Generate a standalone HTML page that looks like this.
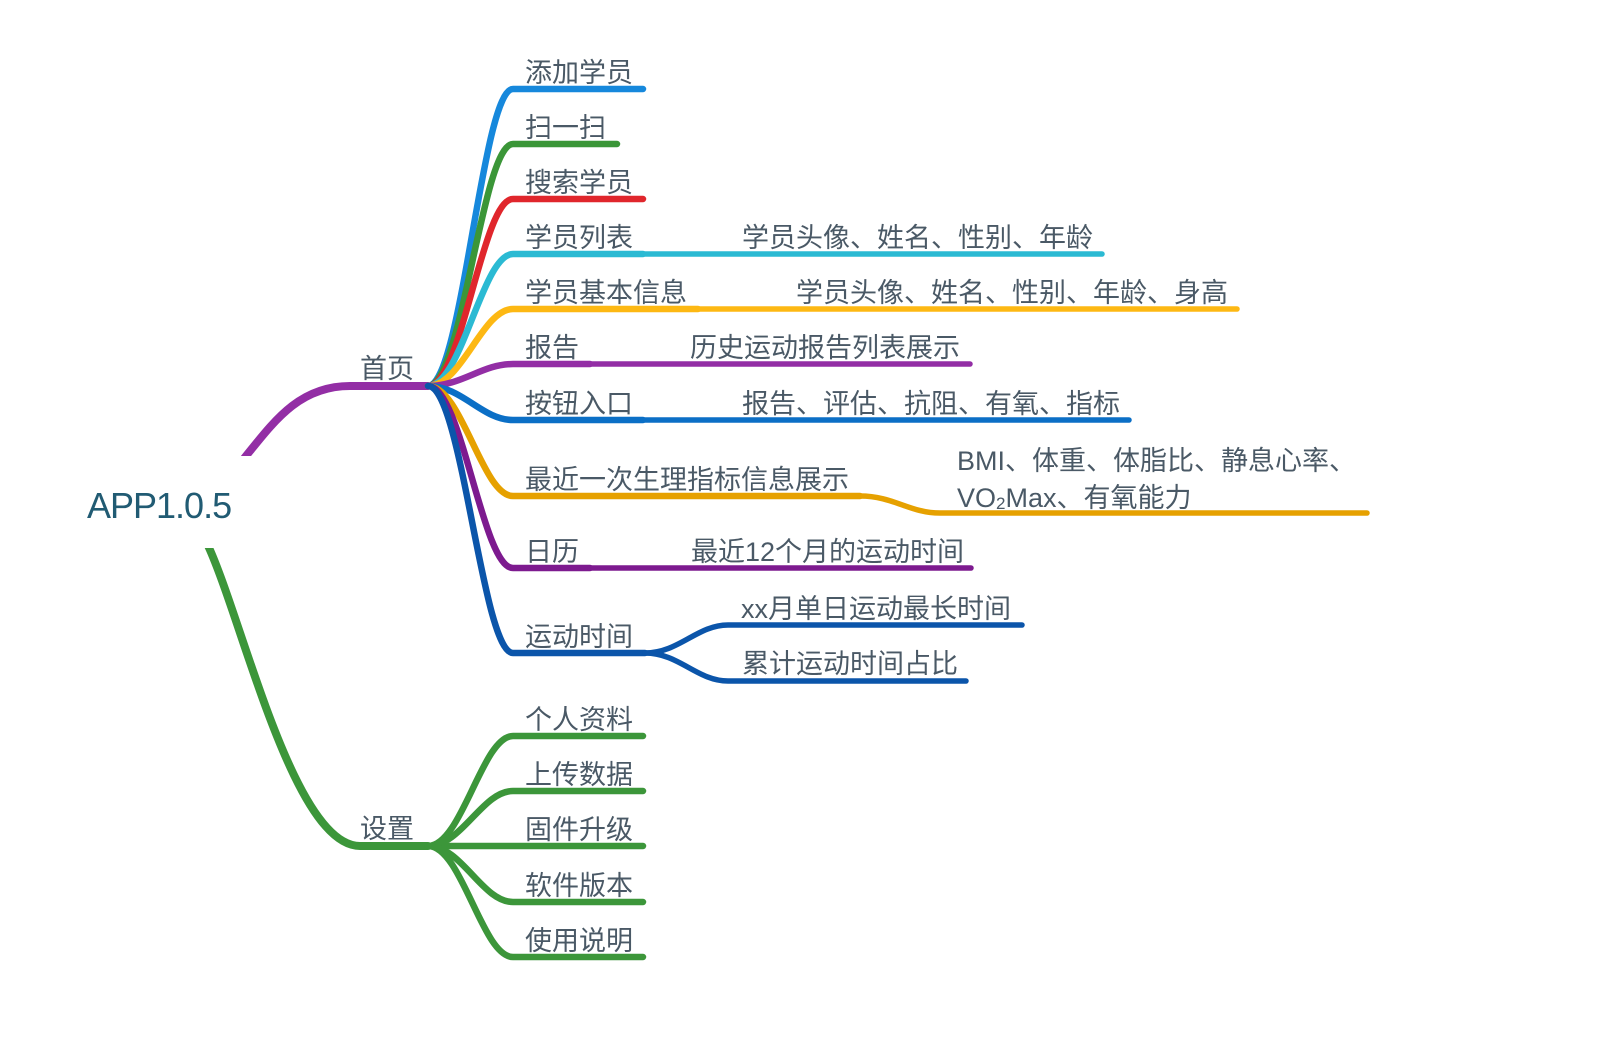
<!DOCTYPE html>
<html>
<head>
<meta charset="utf-8">
<style>
  html,body{margin:0;padding:0;background:#fff;}
  svg{display:block;}
  text{font-family:"Liberation Sans","Noto Sans CJK SC",sans-serif;fill:#4a5966;font-size:27px;}
</style>
</head>
<body>
<svg width="1600" height="1048" viewBox="0 0 1600 1048" xmlns="http://www.w3.org/2000/svg">
  <rect width="1600" height="1048" fill="#fff"/>
  <g fill="none" stroke-linecap="round" stroke-linejoin="round">
    <!-- main branches -->
    <path d="M230 476 L246 456 C275 420 300 386 350 386 L428 386" stroke="#932ea5" stroke-width="8"/>
    <path d="M201 530 L210 550 C245 630 295 846 360 846 L428 846" stroke="#3c963a" stroke-width="8"/>
  </g>
  <!-- root cover -->
  <rect x="60" y="456" width="260" height="92" fill="#fff"/>
  <text x="87" y="518" style="font-size:36px;fill:#215b73;letter-spacing:-1px">APP1.0.5</text>

  <g fill="none" stroke-linecap="round" stroke-linejoin="round">
    <!-- 首页 children -->
    <path d="M428 386 C462 386 482 89 513 89 L643 89" stroke="#1688dc" stroke-width="6.5"/>
    <path d="M428 386 C462 386 482 144 513 144 L617 144" stroke="#3b9638" stroke-width="6.5"/>
    <path d="M428 386 C462 386 482 199 513 199 L643 199" stroke="#e0262c" stroke-width="6.5"/>
    <path d="M428 386 C462 386 482 254 513 254 L643 254" stroke="#2bbad3" stroke-width="6.5"/>
    <path d="M643 254 L1102 254" stroke="#2bbad3" stroke-width="5.5"/>
    <path d="M428 386 C462 386 482 309 513 309 L698 309" stroke="#fdb813" stroke-width="6.5"/>
    <path d="M698 309 L1237 309" stroke="#fdb813" stroke-width="5.5"/>
    <path d="M428 386 C462 386 482 364 513 364 L590 364" stroke="#932ea5" stroke-width="6.5"/>
    <path d="M590 364 L970 364" stroke="#932ea5" stroke-width="5.5"/>
    <path d="M428 386 C462 386 482 420 513 420 L643 420" stroke="#0b6fc6" stroke-width="6.5"/>
    <path d="M643 420 L1129 420" stroke="#0b6fc6" stroke-width="5.5"/>
    <path d="M428 386 C462 386 482 496 513 496 L860 496" stroke="#e6a100" stroke-width="6.5"/>
    <path d="M860 496 C894 496 909 513 940 513 L1367 513" stroke="#e6a100" stroke-width="5.5"/>
    <path d="M428 386 C462 386 482 568 513 568 L590 568" stroke="#7d1a8f" stroke-width="6.5"/>
    <path d="M590 568 L971 568" stroke="#7d1a8f" stroke-width="5.5"/>
    <path d="M428 386 C462 386 482 653 513 653 L645 653" stroke="#0b55aa" stroke-width="6.5"/>
    <path d="M645 653 C679 653 697 625 728 625 L1022 625" stroke="#0b55aa" stroke-width="5.5"/>
    <path d="M645 653 C679 653 697 681 728 681 L966 681" stroke="#0b55aa" stroke-width="5.5"/>

    <!-- 设置 children -->
    <path d="M428 846 C462 846 482 736 513 736 L643 736" stroke="#3c963a" stroke-width="6.5"/>
    <path d="M428 846 C462 846 482 791 513 791 L643 791" stroke="#3c963a" stroke-width="6.5"/>
    <path d="M428 846 L643 846" stroke="#3c963a" stroke-width="6.5"/>
    <path d="M428 846 C462 846 482 902 513 902 L643 902" stroke="#3c963a" stroke-width="6.5"/>
    <path d="M428 846 C462 846 482 957 513 957 L643 957" stroke="#3c963a" stroke-width="6.5"/>
  </g>

  <!-- level 1 labels -->
  <text x="360" y="378">首页</text>
  <text x="360" y="838">设置</text>

  <!-- level 2 labels -->
  <text x="525" y="82">添加学员</text>
  <text x="525" y="137">扫一扫</text>
  <text x="525" y="192">搜索学员</text>
  <text x="525" y="247">学员列表</text>
  <text x="525" y="302">学员基本信息</text>
  <text x="525" y="357">报告</text>
  <text x="525" y="413">按钮入口</text>
  <text x="525" y="489">最近一次生理指标信息展示</text>
  <text x="525" y="561">日历</text>
  <text x="525" y="646">运动时间</text>

  <text x="525" y="729">个人资料</text>
  <text x="525" y="784">上传数据</text>
  <text x="525" y="839">固件升级</text>
  <text x="525" y="895">软件版本</text>
  <text x="525" y="950">使用说明</text>

  <!-- level 3 labels -->
  <text x="742" y="247">学员头像、姓名、性别、年龄</text>
  <text x="796" y="302">学员头像、姓名、性别、年龄、身高</text>
  <text x="690" y="357">历史运动报告列表展示</text>
  <text x="742" y="413">报告、评估、抗阻、有氧、指标</text>
  <text x="957" y="470">BMI、体重、体脂比、静息心率、</text>
  <text x="957" y="507">VO<tspan style="font-size:17px" dy="2">2</tspan><tspan dy="-2">Max、有氧能力</tspan></text>
  <text x="691" y="561">最近12个月的运动时间</text>
  <text x="741" y="618">xx月单日运动最长时间</text>
  <text x="742" y="673">累计运动时间占比</text>
</svg>
</body>
</html>
